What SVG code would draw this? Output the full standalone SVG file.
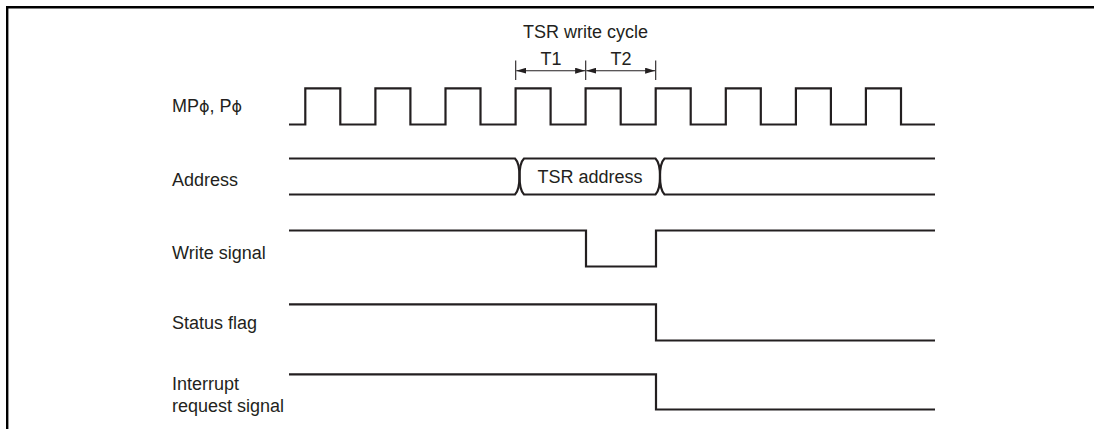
<svg xmlns="http://www.w3.org/2000/svg" width="1094" height="429" viewBox="0 0 1094 429">
<style>
.sig{fill:none;stroke:#231f20;stroke-width:2.2;stroke-linejoin:miter;stroke-linecap:butt}
.thin{fill:none;stroke:#231f20;stroke-width:1.1}
.lbl{font-family:"Liberation Sans",Arial,sans-serif;font-size:18px;fill:#231f20}
.phi{font-family:"DejaVu Sans","Liberation Sans",sans-serif;font-size:16px}
.mid{text-anchor:middle}
</style>
<defs>
<marker id="ah" viewBox="0 0 10 6" refX="10" refY="3" markerWidth="10" markerHeight="6" markerUnits="userSpaceOnUse" orient="auto-start-reverse">
<path d="M0,0 L10,3 L0,6 Z" fill="#231f20"/>
</marker>
</defs>
<rect width="1094" height="429" fill="#fff"/>
<path d="M7.2,429 V7.2 H1094" fill="none" stroke="#000" stroke-width="2.4"/>

<g id="clock">
<text class="lbl" x="172" y="111.5">MP<tspan class="phi">ϕ</tspan>, P<tspan class="phi">ϕ</tspan></text>
<path class="sig" d="M289,124.5 H305.3 V88.3 H340.3 V124.5 H375.4 V88.3 H410.4 V124.5 H445.5 V88.3 H480.5 V124.5 H515.6 V88.3 H550.6 V124.5 H585.6 V88.3 H620.7 V124.5 H655.7 V88.3 H690.7 V124.5 H725.8 V88.3 H760.8 V124.5 H795.9 V88.3 H830.9 V124.5 H865.9 V88.3 H901 V124.5 H935"/>
</g>

<g id="cycle">
<text class="lbl mid" x="585.5" y="38.3">TSR write cycle</text>
<text class="lbl mid" x="551" y="65">T1</text>
<text class="lbl mid" x="621" y="65">T2</text>
</g>

<g id="address">
<text class="lbl" x="172" y="186">Address</text>
<path class="sig" d="M289,158.5 H515 Q519.5,163 519.5,176.5 Q519.5,190 524,194.5 H655.5 Q660,190 660,176.5 Q660,163 664.5,158.5 H935"/>
<path class="sig" d="M289,194.5 H515 Q519.5,190 519.5,176.5 Q519.5,163 524,158.5 H655.5 Q660,163 660,176.5 Q660,190 664.5,194.5 H935"/>
<text class="lbl mid" x="590" y="183">TSR address</text>
</g>

<g id="write">
<text class="lbl" x="172" y="258.5">Write signal</text>
<path class="sig" d="M289,230.5 H586 V266.5 H656 V230.5 H935"/>
</g>

<g id="status">
<text class="lbl" x="172" y="328.5">Status flag</text>
<path class="sig" d="M289,304.3 H656 V340.5 H935"/>
</g>

<g id="interrupt">
<text class="lbl" x="172" y="390">Interrupt</text>
<text class="lbl" x="172" y="411.5">request signal</text>
<path class="sig" d="M289,374.3 H656 V409.5 H935"/>
</g>

<g id="connectors">
<line class="thin" x1="515.7" y1="60.5" x2="515.7" y2="80"/>
<line class="thin" x1="585.7" y1="60.5" x2="585.7" y2="80"/>
<line class="thin" x1="655.7" y1="60.5" x2="655.7" y2="80"/>
<line class="thin" x1="516.3" y1="70.7" x2="585.1" y2="70.7" marker-start="url(#ah)" marker-end="url(#ah)"/>
<line class="thin" x1="586.3" y1="70.7" x2="655.1" y2="70.7" marker-start="url(#ah)" marker-end="url(#ah)"/>
</g>
</svg>
